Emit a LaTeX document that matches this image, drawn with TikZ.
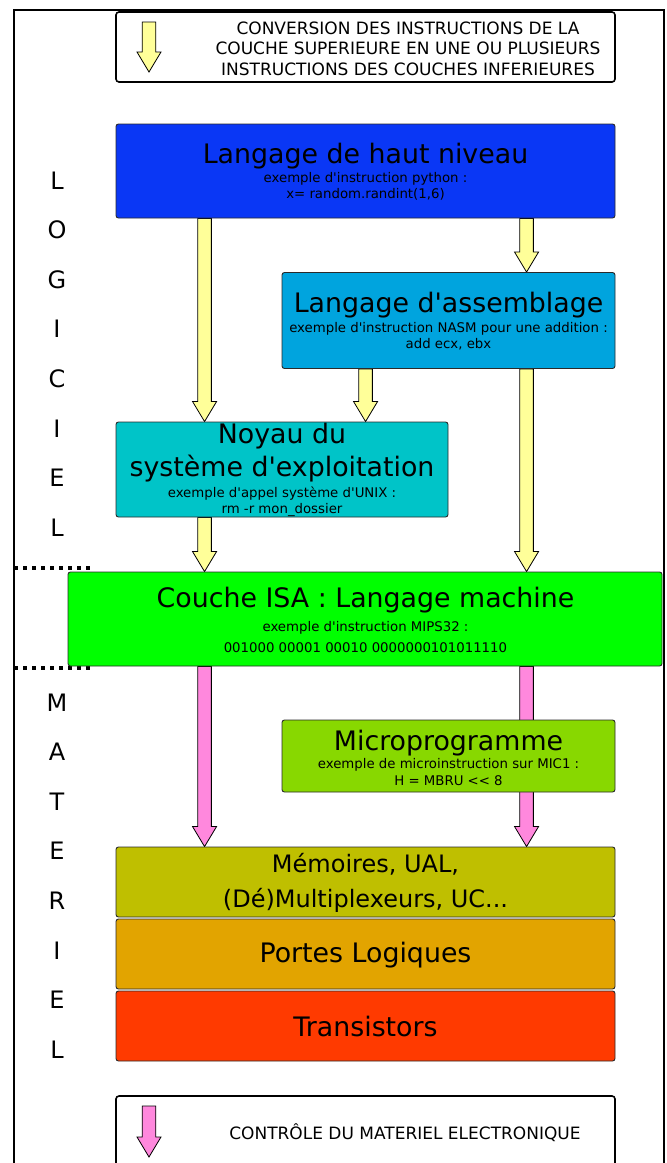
\documentclass[tikz,border=0pt]{standalone}
\usepackage{fontspec}
\newfontfamily\dv{DejaVu Sans}
\usetikzlibrary{calc}
\pgfdeclarelayer{bg}
\pgfsetlayers{bg,main}
\definecolor{cHL}{HTML}{0A37F5}
\definecolor{cASM}{HTML}{00A4DE}
\definecolor{cNOY}{HTML}{00C4C8}
\definecolor{cISA}{HTML}{00FF00}
\definecolor{cMIC}{HTML}{88D800}
\definecolor{cMEM}{HTML}{BFBF00}
\definecolor{cPOR}{HTML}{E2A400}
\definecolor{cTRA}{HTML}{FF3A00}
\definecolor{cYel}{HTML}{FFFF99}
\definecolor{cPink}{HTML}{FF88DD}
\definecolor{cBord}{HTML}{2A2A2A}
\tikzset{
  layerbox/.style={draw=cBord, line width=0.9pt, rounded corners=2.5pt, inner sep=0pt, anchor=center},
  legbox/.style={draw=black, line width=1.6pt, rounded corners=3pt, inner sep=0pt, anchor=center, fill=white},
  ttl/.style={anchor=base, inner sep=0pt, font=\dv\fontsize{26.8}{32}\selectfont},
  ttlS/.style={anchor=base, inner sep=0pt, font=\dv\fontsize{24}{28}\selectfont},
  sub/.style={anchor=base, inner sep=0pt, font=\dv\fontsize{13.3}{16}\selectfont},
  leg/.style={anchor=base, inner sep=0pt, font=\dv\fontsize{17}{20.5}\selectfont},
  side/.style={anchor=base, inner sep=0pt, font=\dv\fontsize{24}{28}\selectfont},
  fat/.style={line width=0.8pt, draw=black, to path={let \p1=(\tikztostart), \p2=(\tikztotarget) in
    (\x1-6.8pt,\y1) -- (\x1-6.8pt,\y2+20pt) -- (\x1-12pt,\y2+20pt) -- (\x1,\y2) --
    (\x1+12pt,\y2+20pt) -- (\x1+6.8pt,\y2+20pt) -- (\x1+6.8pt,\y1) -- cycle}},
  dots/.style={line width=4pt, dash pattern=on 4pt off 5pt},
}
\begin{document}
\begin{tikzpicture}[x=1pt,y=-1pt]
\useasboundingbox (0,0) rectangle (667,1163);
\clip (0,0) rectangle (667,1163);
% outer frame
\coordinate (f1) at (14,1175); \coordinate (f2) at (14,10);
\coordinate (f3) at (664,10); \coordinate (f4) at (664,1175);
\draw[line width=1.8pt] (f1) -- (f2) -- (f3) -- (f4);
% dotted separators
\coordinate (d1a) at (14,568); \coordinate (d1b) at (90,568);
\coordinate (d2a) at (14,668); \coordinate (d2b) at (90,668);
\draw[dots] (d1a) -- (d1b);
\draw[dots] (d2a) -- (d2b);

% legend top
\node[legbox, minimum width=499pt, minimum height=70pt] (legT) at (365.5,47) {};
\node[leg, align=center] (legTtxt) at (408,75) {CONVERSION DES INSTRUCTIONS DE LA\\COUCHE SUPERIEURE EN UNE OU PLUSIEURS\\INSTRUCTIONS DES COUCHES INFERIEURES};
\coordinate (la1) at (149,22); \coordinate (la2) at (149,72);
\draw[fat, fill=cYel] (la1) to (la2);

% boxes
\node[layerbox, fill=cHL, minimum width=499pt, minimum height=94pt] (hl) at (365.5,171) {};
\node[ttl] (hlT) at (365.5,163) {Langage de haut niveau};
\node[sub] (hlS1) at (365.5,182) {exemple d'instruction python :};
\node[sub] (hlS2) at (365.5,198) {x= random.randint(1,6)};

\node[layerbox, fill=cASM, minimum width=333pt, minimum height=96pt] (asm) at (448.5,320.5) {};
\node[ttl] (asmT) at (448.5,312) {Langage d'assemblage};
\node[sub] (asmS1) at (448.5,332) {exemple d'instruction NASM pour une addition :};
\node[sub] (asmS2) at (448.5,348) {add ecx, ebx};

\node[layerbox, fill=cNOY, minimum width=332pt, minimum height=95pt] (noy) at (282,469.5) {};
\node[ttl] (noyT1) at (282,443) {Noyau du};
\node[ttl] (noyT2) at (282,476) {système d'exploitation};
\node[sub] (noyS1) at (282,497) {exemple d'appel système d'UNIX :};
\node[sub] (noyS2) at (282,513) {rm -r mon\_dossier};

\node[layerbox, fill=cISA, minimum width=594pt, minimum height=94pt] (isa) at (365,619) {};
\node[ttl] (isaT) at (365.5,607) {Couche ISA : Langage machine};
\node[sub] (isaS1) at (365.5,631) {exemple d'instruction MIPS32 :};
\node[sub] (isaS2) at (365.5,652) {001000 00001 00010 0000000101011110};

\node[layerbox, fill=cMIC, minimum width=333pt, minimum height=72pt] (mic) at (448.5,756) {};
\node[ttl] (micT) at (448.5,750) {Microprogramme};
\node[sub] (micS1) at (448.5,768) {exemple de microinstruction sur MIC1 :};
\node[sub] (micS2) at (448.5,785) {H = MBRU << 8};

\node[layerbox, fill=cMEM, minimum width=499pt, minimum height=70pt] (mem) at (365.5,882) {};
\node[ttlS] (memT1) at (365.5,872) {Mémoires, UAL,};
\node[ttlS] (memT2) at (365.5,907) {(Dé)Multiplexeurs, UC...};

\node[layerbox, fill=cPOR, minimum width=499pt, minimum height=70pt] (por) at (365.5,954) {};
\node[ttl] (porT) at (365.5,962) {Portes Logiques};

\node[layerbox, fill=cTRA, minimum width=499pt, minimum height=70pt] (tra) at (365.5,1026) {};
\node[ttl] (traT) at (365.5,1036) {Transistors};

% legend bottom
\node[legbox, minimum width=499pt, minimum height=84pt] (legB) at (365.5,1138) {};
\node[leg] (legBtxt) at (405,1139) {CONTRÔLE DU MATERIEL ELECTRONIQUE};
\coordinate (lb1) at (149,1106); \coordinate (lb2) at (149,1157);
\draw[fat, fill=cPink] (lb1) to (lb2);

% side letters
\foreach \l [count=\i from 0] in {L,O,G,I,C,I,E,L}
  \node[side] (sw\i) at (57,189+49.6*\i) {\l};
\foreach \l [count=\i from 0] in {M,A,T,E,R,I,E,L}
  \node[side] (sh\i) at (57,711+49.6*\i) {\l};

% arrows
\begin{pgfonlayer}{bg}
\draw[fat, fill=cYel] ([xshift=89pt]hl.south west) to ([xshift=89pt]noy.north west);
\draw[fat, fill=cYel] ([xshift=411pt]hl.south west) to ([xshift=245pt]asm.north west);
\draw[fat, fill=cYel] ([xshift=84pt]asm.south west) to ([xshift=84pt]noy.north west);
\draw[fat, fill=cYel] ([xshift=245pt]asm.south west) to ([xshift=459pt]isa.north west);
\draw[fat, fill=cYel] ([xshift=89pt]noy.south west) to ([xshift=137pt]isa.north west);
\draw[fat, fill=cPink] ([xshift=137pt]isa.south west) to ([xshift=89pt]mem.north west);
\draw[fat, fill=cPink] ([xshift=459pt]isa.south west) to ([xshift=411pt]mem.north west);
\end{pgfonlayer}
\end{tikzpicture}
\end{document}
